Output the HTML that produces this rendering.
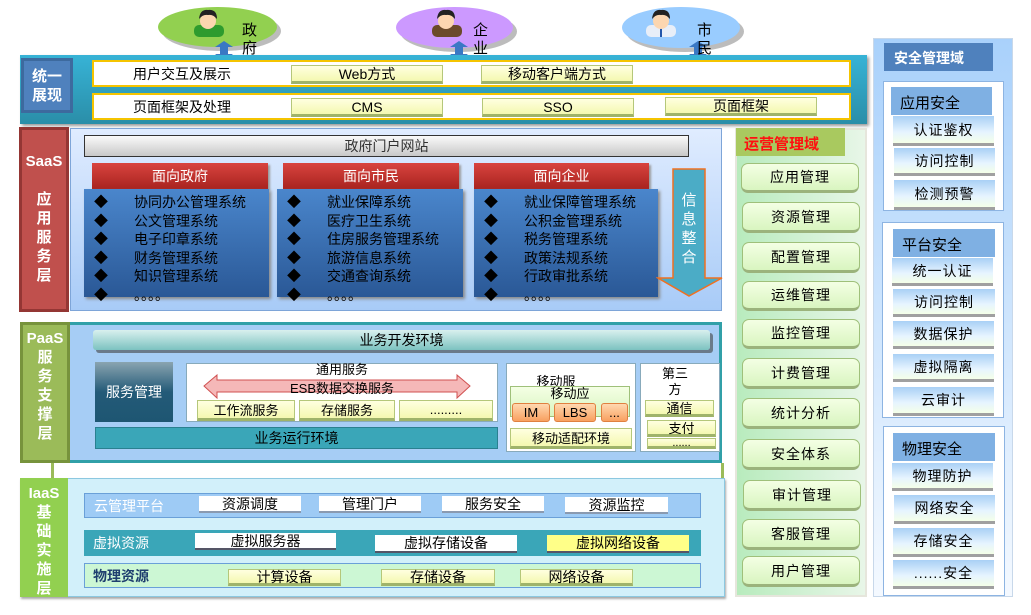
<!DOCTYPE html>
<html><head><meta charset="utf-8"><style>
*{box-sizing:border-box;margin:0;padding:0}
body{width:1031px;height:615px;position:relative;background:#fff;font-family:"Liberation Sans","Noto Sans CJK SC",sans-serif;overflow:hidden;color:#000}
.a{position:absolute}
.c{display:flex;align-items:center;justify-content:center;text-align:center}
.yb{background:linear-gradient(#ffffe0,#f4f8b0);border:1px solid #b5c77a;border-bottom:3px solid #9fb36a;font-size:14px}
.gb{background:linear-gradient(#f4ffe4,#d9f5c0);border:1px solid #9fc07a;border-bottom:3px solid #9bb37c;border-radius:7px;font-size:14px;letter-spacing:1px}
.sb{background:linear-gradient(#a9d0f5,#e6f4ff 60%,#f4ffe8);border-bottom:3px solid #a0a0a0;font-size:14px;letter-spacing:1px}
.sh{background:#7fb0e3;font-size:15px}
.rh{background:linear-gradient(#d9443f,#a8231f);color:#fff;font-size:14px;box-shadow:2px 2px 2px #999}
.bl{background:linear-gradient(#4a86cc,#2a5896);color:#000;font-size:14px;box-shadow:2px 2px 3px #888}
.bl div{height:18.5px;line-height:18.5px;white-space:nowrap}
.bl span{display:inline-block;width:50px;padding-left:10px}
.vt{color:#fff;font-weight:bold;font-size:15px;line-height:19px;text-align:center}
</style></head><body>

<!-- ellipses -->
<div class="a" style="left:162px;top:11px;width:119px;height:40px;border-radius:50%;background:#bcbcbc"></div>
<div class="a" style="left:158px;top:7px;width:119px;height:40px;border-radius:50%;background:#92d050"></div>
<div class="a" style="left:400px;top:11px;width:117px;height:41px;border-radius:50%;background:#bcbcbc"></div>
<div class="a" style="left:396px;top:7px;width:117px;height:41px;border-radius:50%;background:#cc99ff"></div>
<div class="a" style="left:626px;top:11px;width:118px;height:41px;border-radius:50%;background:#bcbcbc"></div>
<div class="a" style="left:622px;top:7px;width:118px;height:41px;border-radius:50%;background:#99ccff"></div>
<svg class="a" style="left:0;top:0" width="1031" height="70">
 <g id="p1"><rect x="194" y="25" width="30" height="12" rx="5" fill="#2e9b2e"/><circle cx="208" cy="21" r="8" fill="#fcd6b0"/><path d="M199 19 Q200 9 208 10 Q217 9 217 19 Q213 14 208 15 Q203 14 199 19Z" fill="#222"/></g>
 <g><rect x="432" y="25" width="30" height="12" rx="5" fill="#6b4a2a"/><circle cx="446" cy="21" r="8" fill="#fcd6b0"/><path d="M437 19 Q438 9 446 10 Q455 9 455 19 Q451 14 446 15 Q441 14 437 19Z" fill="#222"/></g>
 <g><rect x="646" y="25" width="30" height="12" rx="5" fill="#e8eef8"/><rect x="660" y="27" width="2" height="10" fill="#2255aa"/><circle cx="661" cy="21" r="8" fill="#fcd6b0"/><path d="M652 19 Q653 9 661 10 Q670 9 670 19 Q666 14 661 15 Q656 14 652 19Z" fill="#222"/></g>
 <g fill="#3a78c4"><path d="M224 41 L233 47 L228 47 L228 54 L233 54 L224 61 L215 54 L220 54 L220 47 L215 47Z"/>
 <path d="M459 41 L468 47 L463 47 L463 54 L468 54 L459 61 L450 54 L455 54 L455 47 L450 47Z"/>
 <path d="M698 41 L707 47 L702 47 L702 54 L707 54 L698 61 L689 54 L694 54 L694 47 L689 47Z"/></g>
 <g font-size="15" font-family="Liberation Sans,Noto Sans CJK SC,sans-serif"><text x="242" y="35">政</text><text x="242" y="53">府</text>
 <text x="473" y="35">企</text><text x="473" y="53">业</text><text x="697" y="35">市</text><text x="697" y="53">民</text></g>
</svg>

<!-- unified layer -->
<div class="a" style="left:20px;top:55px;width:847px;height:69px;background:linear-gradient(#37b3d6,#2a8ea8);box-shadow:2px 2px 3px #999"></div>
<div class="a vt c" style="left:21px;top:58px;width:52px;height:55px;background:#4f81bd;border:3px solid #3d6a9e;font-size:15px">统一<br>展现</div>
<div class="a" style="left:92px;top:60px;width:759px;height:27px;background:#fff;border:2px solid #f5c400"></div>
<div class="a" style="left:92px;top:93px;width:759px;height:27px;background:#fff;border:2px solid #f5c400"></div>
<div class="a" style="left:133px;top:64px;font-size:14px">用户交互及展示</div>
<div class="a" style="left:133px;top:97px;font-size:14px">页面框架及处理</div>
<div class="a c yb" style="left:291px;top:65px;width:152px;height:19px">Web方式</div>
<div class="a c yb" style="left:481px;top:65px;width:152px;height:19px">移动客户端方式</div>
<div class="a c yb" style="left:291px;top:98px;width:152px;height:19px">CMS</div>
<div class="a c yb" style="left:482px;top:98px;width:152px;height:19px">SSO</div>
<div class="a c yb" style="left:665px;top:97px;width:152px;height:19px">页面框架</div>

<!-- SaaS -->
<div class="a" style="left:70px;top:128px;width:652px;height:183px;background:linear-gradient(#e0ecff,#a8cbf7);border:1px solid #7ea5d8"></div>
<div class="a vt" style="left:19px;top:127px;width:50px;height:185px;background:#c0504d;border:3px solid #943634;padding-top:22px">SaaS<br><br>应<br>用<br>服<br>务<br>层</div>
<div class="a c" style="left:84px;top:135px;width:605px;height:22px;background:linear-gradient(#fafafa,#c8c8c8);border:1px solid #333;font-size:14px;color:#333">政府门户网站</div>
<div class="a c rh" style="left:92px;top:163px;width:176px;height:26px">面向政府</div>
<div class="a c rh" style="left:283px;top:163px;width:176px;height:26px">面向市民</div>
<div class="a c rh" style="left:474px;top:163px;width:175px;height:26px">面向企业</div>
<div class="a bl" style="left:84px;top:189px;width:185px;height:108px;padding-top:4px">
<div><span>◆</span>协同办公管理系统</div><div><span>◆</span>公文管理系统</div><div><span>◆</span>电子印章系统</div><div><span>◆</span>财务管理系统</div><div><span>◆</span>知识管理系统</div><div><span>◆</span>。。。。</div></div>
<div class="a bl" style="left:277px;top:189px;width:186px;height:108px;padding-top:4px">
<div><span>◆</span>就业保障系统</div><div><span>◆</span>医疗卫生系统</div><div><span>◆</span>住房服务管理系统</div><div><span>◆</span>旅游信息系统</div><div><span>◆</span>交通查询系统</div><div><span>◆</span>。。。。</div></div>
<div class="a bl" style="left:474px;top:189px;width:184px;height:108px;padding-top:4px">
<div><span>◆</span>就业保障管理系统</div><div><span>◆</span>公积金管理系统</div><div><span>◆</span>税务管理系统</div><div><span>◆</span>政策法规系统</div><div><span>◆</span>行政审批系统</div><div><span>◆</span>。。。。</div></div>
<svg class="a" style="left:656px;top:167px" width="68" height="132"><path d="M17 2 H49 V111 H66 L33 129 L2 111 H17Z" fill="#4bacc6" stroke="#f07020" stroke-width="1.5"/>
<g fill="#fff" font-size="15" font-family="Liberation Sans,Noto Sans CJK SC,sans-serif" text-anchor="middle"><text x="33" y="38">信</text><text x="33" y="57">息</text><text x="33" y="76">整</text><text x="33" y="95">合</text></g></svg>

<!-- PaaS -->
<div class="a" style="left:48px;top:322px;width:674px;height:141px;background:#a6cdf5;border:3px solid #31a0a8"></div>
<div class="a vt" style="left:20px;top:322px;width:50px;height:141px;background:#9bbb59;border:3px solid #77933c;padding-top:4px;line-height:19px">PaaS<br>服<br>务<br>支<br>撑<br>层</div>
<div class="a c" style="left:93px;top:330px;width:617px;height:20px;background:linear-gradient(#d9f0ee,#7cc2c0);box-shadow:3px 3px 0 #6a7a8a;font-size:14px;border-radius:3px">业务开发环境</div>
<div class="a c" style="left:95px;top:362px;width:78px;height:60px;background:linear-gradient(#8aa4b0,#235a78 50%,#1e5672);color:#fff;font-size:14px">服务管理</div>
<div class="a" style="left:186px;top:363px;width:312px;height:59px;background:#fff;border:1px solid #8ab"></div>
<div class="a" style="left:186px;top:363px;width:312px;text-align:center;font-size:13px;line-height:14px">通用服务</div>
<svg class="a" style="left:203px;top:374px" width="268" height="25"><path d="M1 12 L14 1 V6 H254 V1 L267 12 L254 24 V18 H14 V24Z" fill="#f5b8b8" stroke="#d05050"/></svg>
<div class="a" style="left:186px;top:378px;width:312px;text-align:center;font-size:13px">ESB数据交换服务</div>
<div class="a c yb" style="left:197px;top:400px;width:98px;height:21px;font-size:13px">工作流服务</div>
<div class="a c yb" style="left:299px;top:400px;width:96px;height:21px;font-size:13px">存储服务</div>
<div class="a c yb" style="left:399px;top:400px;width:94px;height:21px;font-size:13px">.........</div>
<div class="a c" style="left:95px;top:427px;width:403px;height:22px;background:#3aa6b8;border:1px solid #2a8090;font-size:14px">业务运行环境</div>
<div class="a" style="left:506px;top:363px;width:130px;height:89px;background:#fff;border:1px solid #8ab"></div>
<div class="a" style="left:506px;top:371px;width:100px;text-align:center;font-size:13px">移动服</div>
<div class="a" style="left:510px;top:386px;width:120px;height:31px;background:linear-gradient(#f4ffe4,#d9f5c0);border:1px solid #9fc07a"></div>
<div class="a" style="left:510px;top:386px;width:120px;text-align:center;font-size:13px;line-height:16px">移动应</div>
<div class="a c" style="left:512px;top:403px;width:38px;height:19px;background:linear-gradient(#ffd8b0,#f8a060);border:1px solid #e08040;border-radius:3px;font-size:13px">IM</div>
<div class="a c" style="left:554px;top:403px;width:42px;height:19px;background:linear-gradient(#ffd8b0,#f8a060);border:1px solid #e08040;border-radius:3px;font-size:13px">LBS</div>
<div class="a c" style="left:601px;top:403px;width:27px;height:19px;background:linear-gradient(#ffd8b0,#f8a060);border:1px solid #e08040;border-radius:3px;font-size:13px">...</div>
<div class="a c yb" style="left:510px;top:428px;width:122px;height:21px;font-size:13px">移动适配环境</div>
<div class="a" style="left:640px;top:363px;width:80px;height:89px;background:#fff;border:1px solid #8ab"></div>
<div class="a" style="left:640px;top:366px;width:70px;text-align:center;font-size:13px;line-height:16px">第三<br>方</div>
<div class="a c yb" style="left:645px;top:400px;width:69px;height:17px;font-size:13px">通信</div>
<div class="a c yb" style="left:647px;top:420px;width:69px;height:17px;font-size:13px">支付</div>
<div class="a c yb" style="left:647px;top:438px;width:69px;height:11px;font-size:11px;line-height:8px">......</div>
<div class="a" style="left:51px;top:463px;width:3px;height:16px;background:#9bbb59"></div>
<div class="a" style="left:721px;top:463px;width:3px;height:16px;background:#9bbb59"></div>

<!-- IaaS -->
<div class="a" style="left:20px;top:478px;width:705px;height:119px;background:#d2f0fa;border:1px solid #8cc8e0;box-shadow:1px 2px 2px #aaa"></div>
<div class="a vt" style="left:20px;top:478px;width:48px;height:119px;background:#92d050;padding-top:6px;line-height:19px">IaaS<br>基<br>础<br>实<br>施<br>层</div>
<div class="a" style="left:84px;top:493px;width:617px;height:25px;background:#9ecbf5;border:1px solid #6aa0d8"></div>
<div class="a" style="left:94px;top:496px;font-size:14px;color:#fff">云管理平台</div>
<div class="a c" style="left:199px;top:496px;width:102px;height:17px;background:#fff;border-bottom:2px solid #8a9ab0;font-size:14px">资源调度</div>
<div class="a c" style="left:319px;top:496px;width:102px;height:17px;background:#fff;border-bottom:2px solid #8a9ab0;font-size:14px">管理门户</div>
<div class="a c" style="left:442px;top:496px;width:102px;height:17px;background:#fff;border-bottom:2px solid #8a9ab0;font-size:14px">服务安全</div>
<div class="a c" style="left:565px;top:497px;width:103px;height:17px;background:#fff;border-bottom:2px solid #8a9ab0;font-size:14px">资源监控</div>
<div class="a" style="left:84px;top:530px;width:617px;height:26px;background:#3aa6b8"></div>
<div class="a" style="left:93px;top:533px;font-size:14px;color:#fff">虚拟资源</div>
<div class="a c" style="left:195px;top:533px;width:141px;height:17px;background:#fff;border-bottom:2px solid #556;font-size:14px">虚拟服务器</div>
<div class="a c" style="left:375px;top:535px;width:142px;height:18px;background:#fff;border-bottom:2px solid #556;font-size:14px">虚拟存储设备</div>
<div class="a c" style="left:547px;top:535px;width:142px;height:18px;background:#ffff88;border-bottom:2px solid #556;font-size:14px">虚拟网络设备</div>
<div class="a" style="left:84px;top:563px;width:617px;height:25px;background:#ccf7d4;border:1px solid #6aa0d8"></div>
<div class="a" style="left:93px;top:566px;font-size:14px;color:#1f3f6f;font-weight:bold">物理资源</div>
<div class="a c yb" style="left:228px;top:569px;width:113px;height:17px">计算设备</div>
<div class="a c yb" style="left:381px;top:569px;width:114px;height:17px">存储设备</div>
<div class="a c yb" style="left:520px;top:569px;width:113px;height:17px">网络设备</div>

<!-- operations -->
<div class="a" style="left:735px;top:128px;width:132px;height:469px;background:linear-gradient(90deg,#b8ebbd,#e8f6e8);border:2px solid #e6e6dc"></div>
<div class="a" style="left:736px;top:128px;width:109px;height:28px;background:#a9c95f;color:#ff1010;font-weight:bold;font-size:15px;padding:5px 0 0 8px">运营管理域</div>
<div class="a c gb" style="left:741px;top:163px;width:118px;height:30px">应用管理</div>
<div class="a c gb" style="left:742px;top:202px;width:118px;height:31px">资源管理</div>
<div class="a c gb" style="left:742px;top:242px;width:118px;height:31px">配置管理</div>
<div class="a c gb" style="left:742px;top:281px;width:118px;height:30px">运维管理</div>
<div class="a c gb" style="left:742px;top:319px;width:118px;height:30px">监控管理</div>
<div class="a c gb" style="left:742px;top:358px;width:118px;height:31px">计费管理</div>
<div class="a c gb" style="left:742px;top:398px;width:118px;height:31px">统计分析</div>
<div class="a c gb" style="left:742px;top:439px;width:118px;height:31px">安全体系</div>
<div class="a c gb" style="left:743px;top:480px;width:118px;height:31px">审计管理</div>
<div class="a c gb" style="left:742px;top:519px;width:118px;height:31px">客服管理</div>
<div class="a c gb" style="left:742px;top:556px;width:118px;height:31px">用户管理</div>

<!-- security -->
<div class="a" style="left:873px;top:38px;width:140px;height:559px;background:linear-gradient(#a9d1fb,#f4f9ff);border:1px solid #c8d8ea"></div>
<div class="a" style="left:884px;top:43px;width:109px;height:28px;background:#4f81bd;color:#fff;font-weight:bold;font-size:14px;padding:5px 0 0 10px">安全管理域</div>
<div class="a" style="left:883px;top:81px;width:121px;height:130px;background:#fff;border:1px solid #8db4e2"></div>
<div class="a sh" style="left:891px;top:87px;width:101px;height:28px;padding:5px 0 0 9px">应用安全</div>
<div class="a c sb" style="left:893px;top:116px;width:101px;height:30px">认证鉴权</div>
<div class="a c sb" style="left:894px;top:148px;width:101px;height:28px">访问控制</div>
<div class="a c sb" style="left:894px;top:180px;width:101px;height:30px">检测预警</div>
<div class="a" style="left:882px;top:222px;width:122px;height:196px;background:#fff;border:1px solid #8db4e2"></div>
<div class="a sh" style="left:893px;top:229px;width:102px;height:28px;padding:5px 0 0 9px">平台安全</div>
<div class="a c sb" style="left:892px;top:258px;width:101px;height:28px">统一认证</div>
<div class="a c sb" style="left:893px;top:289px;width:102px;height:28px">访问控制</div>
<div class="a c sb" style="left:893px;top:321px;width:101px;height:28px">数据保护</div>
<div class="a c sb" style="left:893px;top:354px;width:101px;height:28px">虚拟隔离</div>
<div class="a c sb" style="left:893px;top:387px;width:101px;height:29px">云审计</div>
<div class="a" style="left:883px;top:426px;width:122px;height:170px;background:#fff;border:1px solid #8db4e2"></div>
<div class="a sh" style="left:893px;top:433px;width:102px;height:28px;padding:5px 0 0 9px">物理安全</div>
<div class="a c sb" style="left:892px;top:463px;width:101px;height:28px">物理防护</div>
<div class="a c sb" style="left:894px;top:495px;width:101px;height:29px">网络安全</div>
<div class="a c sb" style="left:893px;top:528px;width:101px;height:29px">存储安全</div>
<div class="a c sb" style="left:893px;top:560px;width:101px;height:29px">......安全</div>
</body></html>
